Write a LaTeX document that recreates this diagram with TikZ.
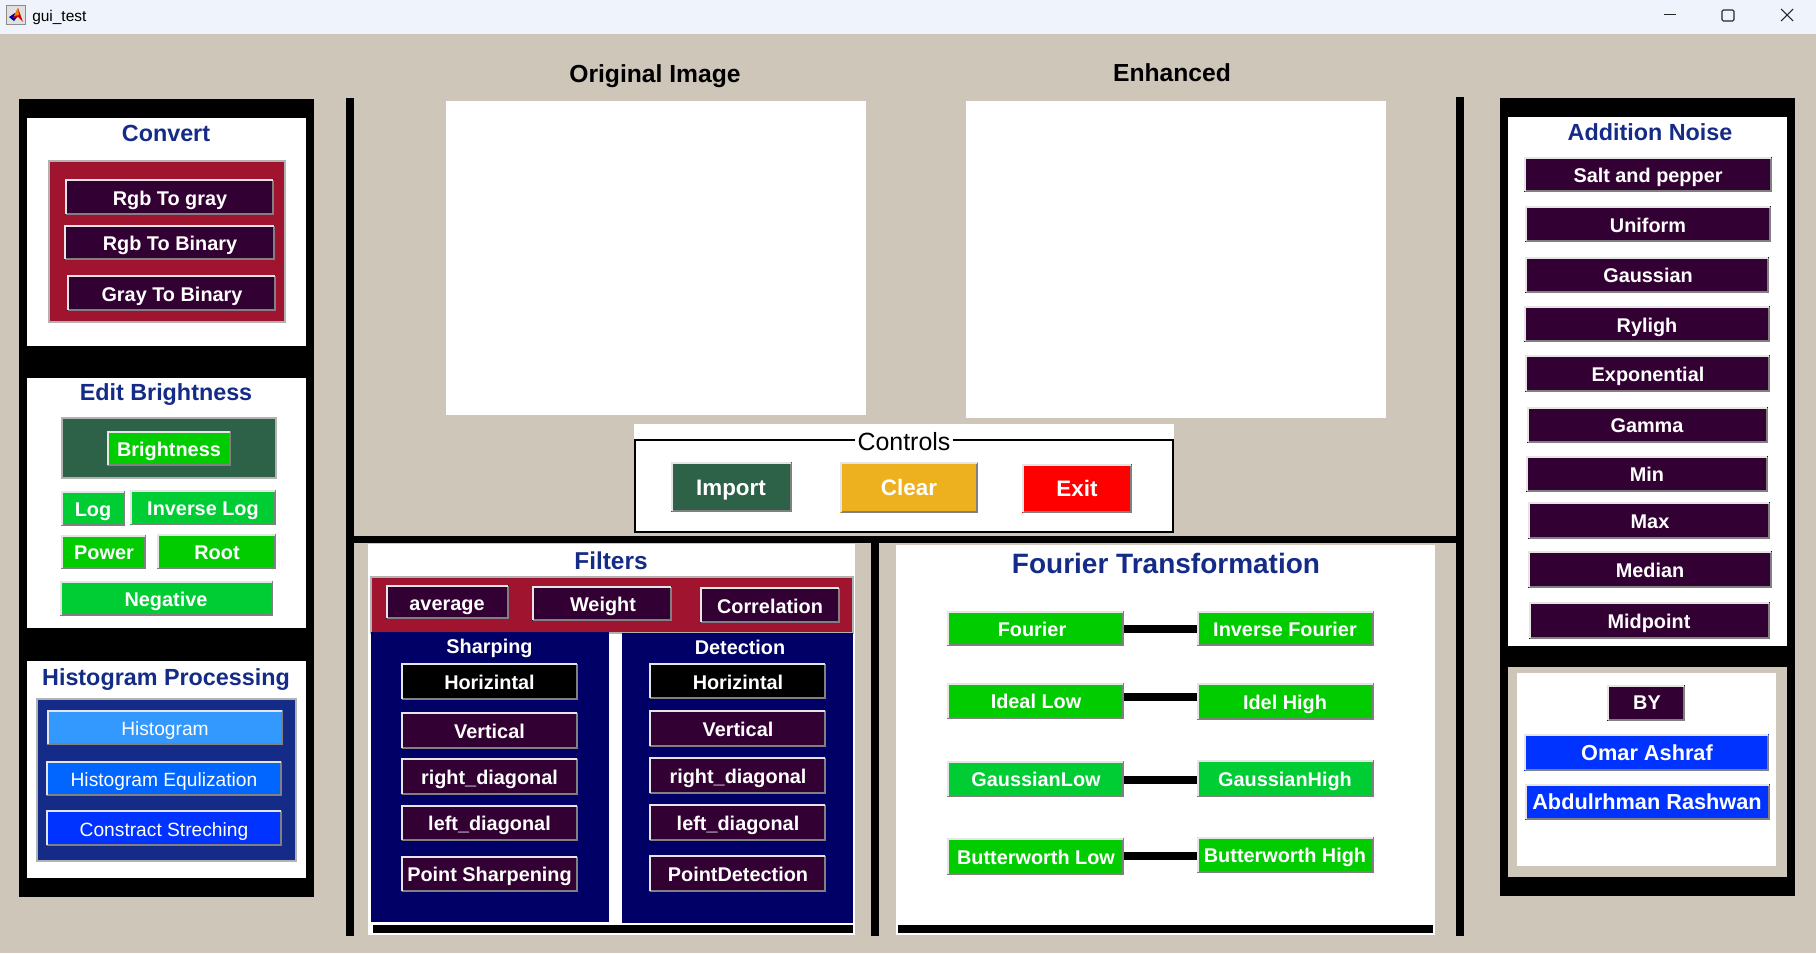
\documentclass[tikz,border=0pt]{standalone}
\usepackage{fontspec}
\setmainfont{Liberation Sans}
\usetikzlibrary{fit}
\definecolor{bgc}{HTML}{CFC6BA}
\definecolor{barc}{HTML}{EFF3FC}
\definecolor{titlec}{HTML}{142B87}
\definecolor{crimson}{HTML}{A01430}
\definecolor{plum}{HTML}{330033}
\definecolor{gr}{HTML}{00CC00}
\definecolor{grb}{HTML}{00CC33}
\definecolor{forest}{HTML}{2D6248}
\definecolor{navy}{HTML}{000066}
\definecolor{amber}{HTML}{EDB120}
\definecolor{bluea}{HTML}{3399FF}
\definecolor{blueb}{HTML}{0066FF}
\definecolor{bluec}{HTML}{0033FF}
\tikzset{
  btnbox/.style={inner sep=0pt,outer sep=0pt,draw=none},
  btntext/.style={inner sep=0pt,outer sep=0pt,text=white,font=\bfseries\fontsize{14.9}{18}\selectfont,text height=11.6pt,text depth=0.4pt},
  bevlight/.style={draw=white!90!black,line width=1.3pt},
  bevdark/.style={draw=black!50,line width=1.3pt},
  paneltitle/.style={inner sep=0pt,text=titlec,font=\bfseries\fontsize{17.5}{20}\selectfont,text height=13pt,text depth=0.4pt},
  bigtitle/.style={inner sep=0pt,text=black,font=\bfseries\fontsize{18.5}{22}\selectfont,text height=14.2pt,text depth=0.3pt},
  subtitle/.style={inner sep=0pt,text=white,font=\bfseries\fontsize{14.9}{18}\selectfont,text height=11.2pt,text depth=0.4pt},
  panelframe/.style={draw=black!30,line width=0.8pt},
  link/.style={draw=black,line width=6pt},
  wctl/.style={draw=black!85,line width=0.8pt}
}
% name, x0, y0, x1, y1, fill, text x, text y, text
\newcommand{\btn}[9]{%
  \node[btnbox,fill=#6,fit={(#2,#3) (#4,#5)}] (#1) {};
  \draw[bevdark] ([shift={(.85,-.85)}]#1.south west) -- ([shift={(-.85,-.85)}]#1.south east) -- ([shift={(-.85,.85)}]#1.north east);
  \draw[bevlight] ([shift={(.85,-.85)}]#1.south west) -- ([shift={(.85,.85)}]#1.north west) -- ([shift={(-.85,.85)}]#1.north east);
  \node[btntext] (#1t) at (#7,#8) {#9};
}
\begin{document}
\begin{tikzpicture}[x=0.75pt,y=-0.75pt]
\useasboundingbox (0,0) rectangle (1816,953);
\fill[bgc] (0,0) rectangle (1816,953);
% title bar
\fill[barc] (0,0) rectangle (1816,34);
\fill[black!12] (6,5) rectangle (25,24);
\draw[black!45,line width=0.6pt] (6,5) rectangle (25,24);
\fill[blue!60!black] (9,17) -- (15,13) -- (18,16) -- (14,21) -- cycle;
\fill[red!85!black] (13,18) -- (18,8) -- (23,22) -- (18,17) -- cycle;
\fill[orange] (14,16) -- (18,8) -- (19,15) -- cycle;
\node[inner sep=0pt,anchor=west,font=\fontsize{11.6}{14}\selectfont,text height=8.6pt,text depth=0pt] (apptitle) at (32,16) {gui\_test};
\draw[wctl] (1664,14.5) -- (1676,14.5);
\draw[wctl,rounded corners=1pt] (1722,10) rectangle (1734,21);
\draw[wctl] (1781,9) -- (1793,21) (1793,9) -- (1781,21);

% left column
\fill[black] (19,99) rectangle (314,897);
\fill[white] (27,118) rectangle (306,346);
\fill[white] (27,378) rectangle (306,628);
\fill[white] (27,661) rectangle (306,878);
\node[paneltitle] (tconvert) at (166,133) {Convert};
\filldraw[fill=crimson,panelframe] (49,161) rectangle (285,322);
\btn{rgbgray}{65}{179}{274}{215}{plum}{170}{198}{Rgb To gray}
\btn{rgbbin}{64}{225}{275}{260}{plum}{170}{243}{Rgb To Binary}
\btn{graybin}{67}{275}{276}{311}{plum}{172}{294}{Gray To Binary}
\node[paneltitle] (tedit) at (166,392) {Edit Brightness};
\filldraw[fill=forest,panelframe] (62,418) rectangle (276,478);
\btn{bright}{107}{431}{231}{466}{gr}{169}{449}{Brightness}
\btn{logb}{61}{491}{125}{526}{grb}{93}{509}{Log}
\btn{invlog}{130}{490}{276}{525}{grb}{203}{508}{Inverse Log}
\btn{power}{61}{535}{146}{569}{gr}{104}{552}{Power}
\btn{rootb}{157}{534}{276}{569}{gr}{217}{552}{Root}
\btn{neg}{60}{581}{273}{616}{grb}{166}{599}{Negative}
\node[paneltitle] (thist) at (166,677) {Histogram Processing};
\filldraw[fill=titlec,panelframe] (37,699) rectangle (296,861);
\btn{hist}{47}{710}{283}{745}{bluea}{165}{728}{\mdseries\fontsize{14.4}{18}\selectfont Histogram}
\btn{histeq}{46}{761}{282}{796}{blueb}{164}{779}{\mdseries\fontsize{14.4}{18}\selectfont Histogram Equlization}
\btn{stretch}{46}{810}{282}{846}{bluec}{164}{829}{\mdseries\fontsize{14.4}{18}\selectfont Constract Streching}

% centre frame
\fill[black] (346,98) rectangle (354,936);
\fill[black] (1456,97) rectangle (1464,936);
\fill[black] (354,536) rectangle (1456,543);
\fill[black] (871,543) rectangle (879,936);
\node[bigtitle] (torig) at (655,73) {Original Image};
\node[bigtitle] (tenh) at (1172,72) {Enhanced};
\fill[white] (446,101) rectangle (866,415);
\fill[white] (966,101) rectangle (1386,418);
\fill[white] (634,424) rectangle (1174,533);
\draw[black,line width=1.5pt] (635,440) rectangle (1173,532);
\node[fill=white,inner xsep=2pt,inner ysep=0pt,font=\fontsize{18.7}{22}\selectfont,text height=12.5pt,text depth=0.3pt] (tctrl) at (904,442) {Controls};
\btn{import}{671}{462}{792}{512}{forest}{731}{488}{\fontsize{16.8}{20}\selectfont Import}
\btn{clear}{840}{462}{978}{513}{amber}{909}{488}{\fontsize{16.8}{20}\selectfont Clear}
\btn{exit}{1022}{464}{1132}{513}{red}{1077}{489}{\fontsize{16.8}{20}\selectfont Exit}

% filters
\fill[white] (368,544) rectangle (855,935);
\node[paneltitle,font=\bfseries\fontsize{18.3}{22}\selectfont,text height=13.8pt] (tfilt) at (611,561) {Filters};
\filldraw[fill=crimson,panelframe] (371,577) rectangle (853,633);
\fill[navy] (371,632) rectangle (609,922);
\fill[navy] (622,633) rectangle (853,923);
\fill[black] (373,925) rectangle (853,933);
\btn{avg}{386}{585}{509}{619}{plum}{447}{603}{average}
\btn{weight}{532}{586}{672}{621}{plum}{603}{604}{Weight}
\btn{corr}{700}{587}{840}{623}{plum}{770}{606}{Correlation}
\node[subtitle] (tsharp) at (489.5,646) {Sharping};
\node[subtitle] (tdet) at (740,647) {Detection};
\btn{sh}{401}{663}{578}{700}{black}{489.5}{682}{Horizintal}
\btn{sv}{401}{712}{578}{749}{plum}{489.5}{731}{Vertical}
\btn{sr}{401}{758}{578}{795}{plum}{489.5}{777}{right\_diagonal}
\btn{sl}{401}{805}{578}{841}{plum}{489.5}{823}{left\_diagonal}
\btn{sp}{401}{856}{578}{892}{plum}{489.5}{874}{Point Sharpening}
\btn{dh}{649}{663}{826}{699}{black}{738}{682}{Horizintal}
\btn{dv}{649}{710}{826}{747}{plum}{738}{729}{Vertical}
\btn{dr}{649}{757}{826}{794}{plum}{738}{776}{right\_diagonal}
\btn{dl}{649}{804}{826}{841}{plum}{738}{823}{left\_diagonal}
\btn{dp}{649}{855}{826}{892}{plum}{738}{874}{PointDetection}

% fourier
\fill[white] (896,545) rectangle (1435,935);
\fill[black] (898,925) rectangle (1433,933);
\node[paneltitle,font=\bfseries\fontsize{21}{26}\selectfont,text height=15.4pt,text depth=0pt] (tfour) at (1166,563) {Fourier Transformation};
\btn{fl}{947}{611}{1124}{646}{gr}{1032}{629}{Fourier}
\btn{fh}{1197}{611}{1374}{646}{gr}{1285}{629}{Inverse Fourier}
\btn{il}{947}{683}{1124}{719}{gr}{1036}{701}{Ideal Low}
\btn{ih}{1197}{683}{1374}{720}{gr}{1285}{702}{Idel High}
\btn{gl}{947}{761}{1124}{797}{grb}{1036}{779}{GaussianLow}
\btn{gh}{1197}{760}{1374}{797}{grb}{1285}{779}{GaussianHigh}
\btn{bl}{947}{838}{1124}{875}{gr}{1036}{857}{Butterworth Low}
\btn{bh}{1197}{837}{1374}{873}{gr}{1285}{855}{Butterworth High}
\draw[link] (fl.east |- 0,629) -- (fh.west |- 0,629);
\draw[link] (il.east |- 0,697) -- (ih.west |- 0,697);
\draw[link] (gl.east |- 0,780) -- (gh.west |- 0,780);
\draw[link] (bl.east |- 0,856) -- (bh.west |- 0,856);

% right column
\fill[black] (1500,98) rectangle (1795,896);
\fill[white] (1508,117) rectangle (1787,646);
\fill[bgc] (1508,667) rectangle (1787,877);
\fill[white] (1517,673) rectangle (1776,866);
\node[paneltitle] (tnoise) at (1650,132) {Addition Noise};
\btn{salt}{1524}{157}{1772}{192}{plum}{1648}{175}{Salt and pepper}
\btn{unif}{1525}{206}{1771}{242}{plum}{1648}{225}{Uniform}
\btn{gaus}{1525}{257}{1769}{293}{plum}{1648}{275}{Gaussian}
\btn{ryl}{1524}{306}{1770}{342}{plum}{1647}{325}{Ryligh}
\btn{expo}{1525}{355}{1770}{392}{plum}{1648}{374}{Exponential}
\btn{gamm}{1527}{407}{1768}{443}{plum}{1647}{425}{Gamma}
\btn{minb}{1526}{456}{1768}{492}{plum}{1647}{474}{Min}
\btn{maxb}{1528}{502}{1770}{539}{plum}{1650}{521}{Max}
\btn{med}{1528}{551}{1772}{588}{plum}{1650}{570}{Median}
\btn{midp}{1529}{602}{1770}{639}{plum}{1649}{621}{Midpoint}
\btn{byb}{1607}{685}{1685}{721}{plum}{1647}{702}{BY}
\btn{omar}{1524}{734}{1769}{771}{bluec}{1647}{753}{\fontsize{16.3}{20}\selectfont Omar Ashraf}
\btn{abd}{1525}{784}{1770}{820}{bluec}{1647}{802}{\fontsize{16.3}{20}\selectfont Abdulrhman Rashwan}
\end{tikzpicture}
\end{document}
